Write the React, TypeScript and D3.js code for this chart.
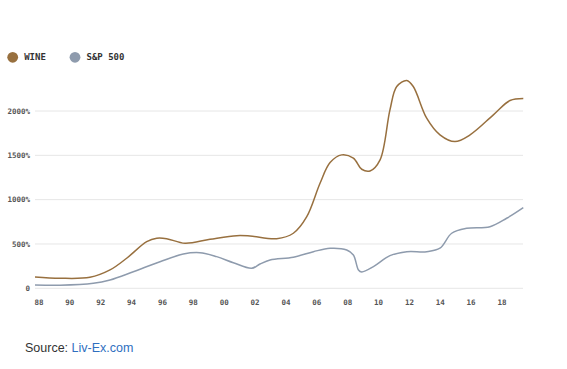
import React, { useRef, useEffect } from "react";
import * as d3 from "d3";

// data (fractional years, % growth)
const wineYears = [1987.74, 1989.36, 1991.3, 1992.6, 1993.68, 1994.98, 1995.63, 1996.27, 1997.46, 1999.08, 2000.81, 2001.67, 2003.4, 2004.48, 2005.35, 2006.21, 2006.86, 2007.61, 2008.37, 2008.91, 2009.45, 2010.1, 2010.74, 2011.18, 2011.83, 2012.25, 2013.12, 2013.98, 2014.95, 2015.93, 2017.44, 2018.52, 2019.38];
const wineValues = [127, 113, 124, 207, 339, 526, 565, 560, 508, 553, 594, 590, 560, 621, 808, 1185, 1418, 1505, 1468, 1343, 1324, 1449, 2013, 2276, 2344, 2276, 1919, 1731, 1655, 1731, 1957, 2118, 2141];

const spYears = [1987.74, 1989.36, 1991.52, 1992.6, 1994.11, 1995.84, 1997.35, 1998.43, 1999.51, 2000.59, 2001.78, 2002.32, 2002.97, 2004.48, 2005.78, 2006.86, 2007.94, 2008.37, 2008.7, 2008.91, 2009.67, 2010.74, 2011.83, 2013.12, 2013.98, 2014.74, 2015.71, 2017.22, 2018.3, 2019.38];
const spValues = [37, 34, 56, 94, 187, 300, 387, 402, 357, 289, 226, 274, 320, 350, 413, 452, 432, 376, 207, 184, 244, 368, 413, 413, 452, 621, 677, 695, 790, 910];

const xTickYears = [1988, 1990, 1992, 1994, 1996, 1998, 2000, 2002, 2004, 2006, 2008, 2010, 2012, 2014, 2016, 2018];
const yTicks = [0, 500, 1000, 1500, 2000];

const seriesNames = ["WINE", "S&P 500"];
const seriesColors = ["#98703f", "#8e9bad"];

const mono = "'DejaVu Sans Mono', 'Liberation Mono', monospace";

const App = () => {
  const svgRef = useRef<SVGSVGElement | null>(null);

  useEffect(() => {
    const svg = d3.select(svgRef.current);
    svg.selectAll("*").remove();

    const x = d3.scaleLinear().domain([1988, 2018]).range([39, 502]);
    const y = d3.scaleLinear().domain([0, 2000]).range([288.3, 111]);

    // grid lines + y labels
    const grid = svg.append("g");
    grid
      .selectAll("line")
      .data(yTicks)
      .enter()
      .append("line")
      .attr("x1", 35)
      .attr("x2", 523)
      .attr("y1", (d) => y(d))
      .attr("y2", (d) => y(d))
      .attr("stroke", "#e6e6e6")
      .attr("stroke-width", 1);
    grid
      .selectAll("text")
      .data(yTicks)
      .enter()
      .append("text")
      .attr("x", 30)
      .attr("y", (d) => y(d))
      .attr("dy", "0.35em")
      .attr("text-anchor", "end")
      .attr("font-family", mono)
      .attr("font-size", 7.5)
      .attr("font-weight", "bold")
      .attr("fill", "#555")
      .text((d) => (d === 0 ? "0" : d + "%"));

    // x labels
    svg
      .append("g")
      .selectAll("text")
      .data(xTickYears)
      .enter()
      .append("text")
      .attr("x", (d) => x(d))
      .attr("y", 302.5)
      .attr("dy", "0.35em")
      .attr("text-anchor", "middle")
      .attr("font-family", mono)
      .attr("font-size", 7.5)
      .attr("font-weight", "bold")
      .attr("fill", "#555")
      .text((d) => String(d).slice(2));

    // lines
    const line = d3
      .line<[number, number]>()
      .x((d) => x(d[0]))
      .y((d) => y(d[1]))
      .curve(d3.curveCatmullRom.alpha(0.5));

    const series = [
      d3.zip(spYears, spValues) as [number, number][],
      d3.zip(wineYears, wineValues) as [number, number][],
    ];
    svg
      .append("path")
      .datum(series[0])
      .attr("fill", "none")
      .attr("stroke", seriesColors[1])
      .attr("stroke-width", 1.5)
      .attr("d", line);
    svg
      .append("path")
      .datum(series[1])
      .attr("fill", "none")
      .attr("stroke", seriesColors[0])
      .attr("stroke-width", 1.5)
      .attr("d", line);

    // legend
    const legendX = [12.7, 75];
    const lg = svg
      .append("g")
      .selectAll("g")
      .data(seriesNames)
      .enter()
      .append("g")
      .attr("transform", (_, i) => `translate(${legendX[i]},57.3)`);
    lg.append("circle").attr("r", 5.4).attr("fill", (_, i) => seriesColors[i]);
    lg.append("text")
      .attr("x", 11.5)
      .attr("dy", "0.35em")
      .attr("font-family", mono)
      .attr("font-size", 9)
      .attr("font-weight", "bold")
      .attr("fill", "#333")
      .text((d) => d);

    // source
    const src = svg
      .append("text")
      .attr("x", 25)
      .attr("y", 352)
      .attr("font-family", "'Liberation Sans', Arial, sans-serif")
      .attr("font-size", 12.5);
    src.append("tspan").attr("fill", "#333").text("Source: ");
    src.append("tspan").attr("fill", "#2f6fbf").text("Liv-Ex.com");
  }, []);

  return (
    <svg
      ref={svgRef}
      width={567}
      height={369}
      style={{ position: "absolute", left: 0, top: 0, background: "#fff" }}
    />
  );
};

export default App;
